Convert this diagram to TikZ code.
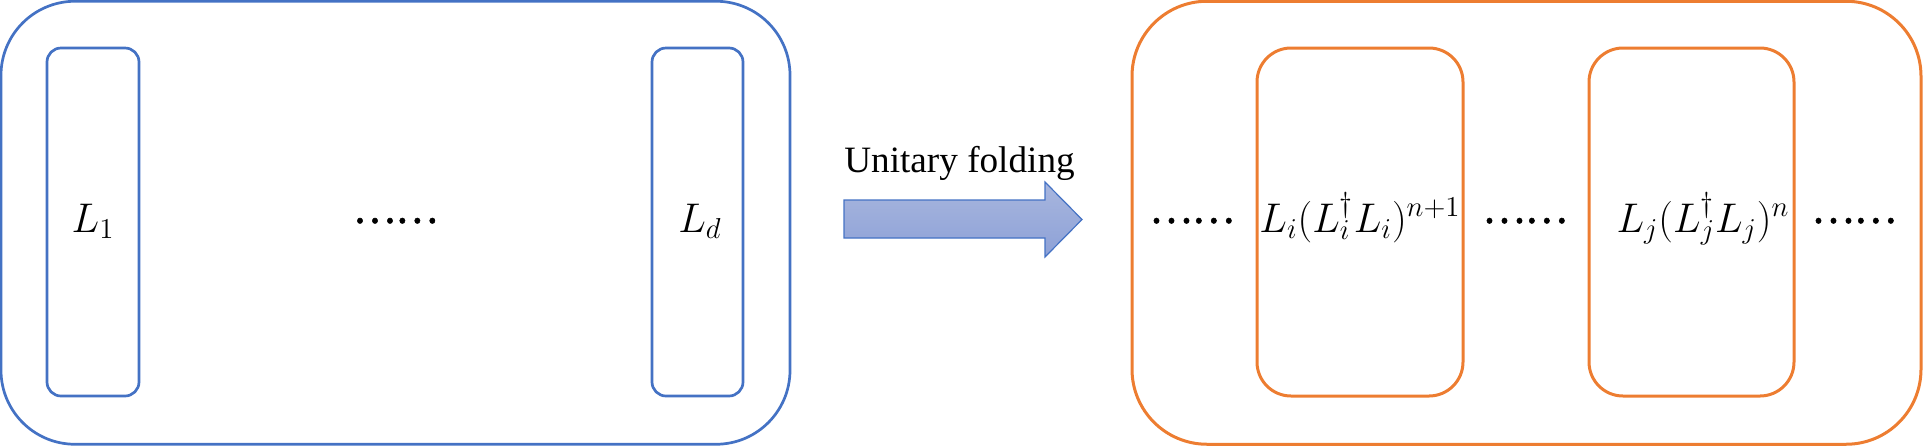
\documentclass[tikz,border=0pt]{standalone}
\usepackage{fontspec}
\setmainfont{Liberation Serif}
\newfontfamily\cjk[FakeBold=1.2]{Noto Sans CJK SC}
\definecolor{myblue}{HTML}{4472C4}
\definecolor{myorange}{HTML}{ED7D31}
\definecolor{arrtop}{HTML}{A8B6DE}
\definecolor{arrbot}{HTML}{8DA1D7}
\tikzset{
  bluebox/.style={draw=myblue, line width=1.35pt, inner sep=0pt},
  orangebox/.style={draw=myorange, line width=1.5pt, inner sep=0pt},
  mathlbl/.style={anchor=base, inner sep=0pt, font=\fontsize{20}{24}\selectfont},
  dotlbl/.style={anchor=base, inner sep=0pt, font=\cjk\fontsize{20}{24}\selectfont},
}
\begin{document}
\begin{tikzpicture}[x=0.5pt,y=-0.5pt]
\useasboundingbox (0,0) rectangle (1923,446);
% left group
\node[bluebox, minimum width=394.5pt, minimum height=221.5pt, rounded corners=37pt] (lout) at (395.5,222.75) {};
\node[bluebox, minimum width=46pt, minimum height=174pt, rounded corners=7pt] (b1) at (93,222) {};
\node[bluebox, minimum width=45.5pt, minimum height=174pt, rounded corners=7pt] (bd) at (697.5,222) {};
\node[mathlbl] (t1) at (93,232) {$L_1$};
\node[mathlbl] (td) at (700,232) {$L_d$};
\node[dotlbl] (dl) at (395.5,223) {……};
% arrow
\draw[myblue, line width=0.6pt, top color=arrtop, bottom color=arrbot]
  (844,200) -- (1045,200) -- (1045,182) -- (1082,219.5) -- (1045,257) -- (1045,238) -- (844,238) -- cycle;
\node[anchor=base, inner sep=0pt, font=\fontsize{18.6}{22}\selectfont] (lab) at (959.5,172) {Unitary folding};
% right group
\node[orangebox, minimum width=394.5pt, minimum height=221.5pt, rounded corners=37.5pt] (rout) at (1526.5,222.75) {};
\node[orangebox, minimum width=103pt, minimum height=174pt, rounded corners=17pt] (bi) at (1360,222) {};
\node[orangebox, minimum width=102.5pt, minimum height=174pt, rounded corners=17pt] (bj) at (1691.5,222) {};
\node[mathlbl] (ti) at (1360,232) {$L_i(L_i^\dagger L_i)^{n+1}$};
\node[mathlbl] (tj) at (1703,232) {$L_j(L_j^\dagger L_j)^{n}$};
\node[dotlbl] (d1) at (1192,223) {……};
\node[dotlbl] (d2) at (1525,223) {……};
\node[dotlbl] (d3) at (1854,223) {……};
\end{tikzpicture}
\end{document}
